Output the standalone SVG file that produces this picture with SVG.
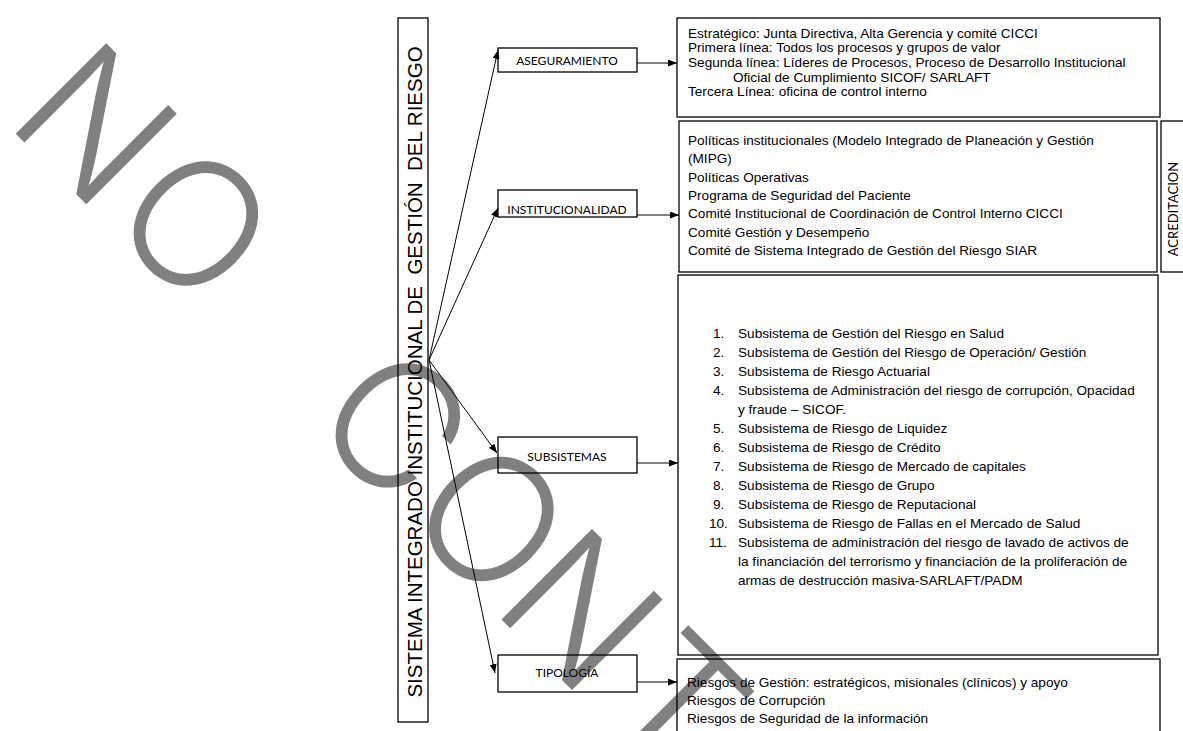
<svg xmlns="http://www.w3.org/2000/svg" width="1183" height="731" viewBox="0 0 1183 731">
<style>
.wm{font-family:Inter,"Liberation Sans",sans-serif;font-weight:350;font-size:176px;fill:#808080;text-anchor:middle}
.box{fill:none;stroke:#000;stroke-width:1.3}
.lbl{font-family:Lato,"Open Sans",sans-serif;font-size:12px;fill:#000;text-anchor:middle}
.t{font-family:"Liberation Sans",Arial,sans-serif;font-size:13.6px;fill:#000}
.vt{font-family:"Liberation Sans",Arial,sans-serif;font-size:20.5px;fill:#000;text-anchor:middle}
.con{stroke:#000;stroke-width:1;fill:none;marker-end:url(#ah)}
</style>
<defs>
<marker id="ah" markerUnits="userSpaceOnUse" markerWidth="9" markerHeight="7" refX="9" refY="3.5" orient="auto">
<path d="M0,0 L9,3.5 L0,7 z" fill="#000"/>
</marker>
</defs>
<rect width="1183" height="731" fill="#fff"/>
<g id="watermark">
<text class="wm" transform="translate(10,128) rotate(45)"><tspan x="58" y="0">N</tspan><tspan x="199" y="0">O</tspan><tspan x="482" y="0">C</tspan><tspan x="617" y="0">O</tspan><tspan x="745" y="0">N</tspan><tspan x="878" y="0">T</tspan></text>
</g>
<g id="sistema">
<rect x="398" y="18" width="30" height="704" class="box" stroke-width="1"/>
<text class="vt" transform="translate(422,372) rotate(-90)" xml:space="preserve">SISTEMA INTEGRADO INSTITUCIONAL DE  GESTIÓN  DEL RIESGO</text>
</g>
<g id="aseguramiento">
<rect x="498" y="48" width="139" height="24" class="box" stroke-width="1"/>
<text class="lbl" x="567" y="65">ASEGURAMIENTO</text>
</g>
<g id="institucionalidad">
<rect x="498" y="190" width="139" height="27" class="box" stroke-width="1"/>
<text class="lbl" x="567" y="214">INSTITUCIONALIDAD</text>
</g>
<g id="subsistemas">
<rect x="498" y="437" width="139" height="36" class="box" stroke-width="1"/>
<text class="lbl" x="567" y="461">SUBSISTEMAS</text>
</g>
<g id="tipologia">
<rect x="498" y="655" width="139" height="37" class="box" stroke-width="1"/>
<text class="lbl" x="567" y="677">TIPOLOGÍA</text>
</g>
<g id="aseg-detalle">
<rect x="677" y="18" width="483" height="99" class="box"/>
<text class="t" x="688" y="37.5">Estratégico: Junta Directiva, Alta Gerencia y comité CICCI</text>
<text class="t" x="688" y="52.2">Primera línea: Todos los procesos y grupos de valor</text>
<text class="t" x="688" y="66.9">Segunda línea: Líderes de Procesos, Proceso de Desarrollo Institucional</text>
<text class="t" x="733" y="81.6">Oficial de Cumplimiento SICOF/ SARLAFT</text>
<text class="t" x="688" y="96.3">Tercera Línea: oficina de control interno</text>
</g>
<g id="inst-detalle">
<rect x="679" y="121" width="478" height="151" class="box"/>
<text class="t" x="688" y="144.5">Políticas institucionales (Modelo Integrado de Planeación y Gestión</text>
<text class="t" x="688" y="163">(MIPG)</text>
<text class="t" x="688" y="181.5">Políticas Operativas</text>
<text class="t" x="688" y="199.5">Programa de Seguridad del Paciente</text>
<text class="t" x="688" y="218">Comité Institucional de Coordinación de Control Interno CICCI</text>
<text class="t" x="688" y="236.5">Comité Gestión y Desempeño</text>
<text class="t" x="688" y="255">Comité de Sistema Integrado de Gestión del Riesgo SIAR</text>
</g>
<g id="acreditacion">
<rect x="1161" y="121" width="24" height="151" class="box" stroke-width="1"/>
<text class="lbl" transform="translate(1178,209) rotate(-90)" style="font-size:13px">ACREDITACION</text>
</g>
<g id="subs-detalle">
<rect x="678" y="275" width="480" height="380" class="box"/>
<g class="t">
<text x="713" y="337.5">1.</text><text x="738" y="337.5">Subsistema de Gestión del Riesgo en Salud</text>
<text x="713" y="356.5">2.</text><text x="738" y="356.5">Subsistema de Gestión del Riesgo de Operación/ Gestión</text>
<text x="713" y="375.5">3.</text><text x="738" y="375.5">Subsistema de Riesgo Actuarial</text>
<text x="713" y="394.5">4.</text><text x="738" y="394.5">Subsistema de Administración del riesgo de corrupción, Opacidad</text>
<text x="738" y="413.5">y fraude – SICOF.</text>
<text x="713" y="432.5">5.</text><text x="738" y="432.5">Subsistema de Riesgo de Liquidez</text>
<text x="713" y="451.5">6.</text><text x="738" y="451.5">Subsistema de Riesgo de Crédito</text>
<text x="713" y="470.5">7.</text><text x="738" y="470.5">Subsistema de Riesgo de Mercado de capitales</text>
<text x="713" y="489.5">8.</text><text x="738" y="489.5">Subsistema de Riesgo de Grupo</text>
<text x="713" y="508.5">9.</text><text x="738" y="508.5">Subsistema de Riesgo de Reputacional</text>
<text x="709" y="527.5">10.</text><text x="738" y="527.5">Subsistema de Riesgo de Fallas en el Mercado de Salud</text>
<text x="709" y="546.5">11.</text><text x="738" y="546.5">Subsistema de administración del riesgo de lavado de activos de</text>
<text x="738" y="565.5">la financiación del terrorismo y financiación de la proliferación de</text>
<text x="738" y="584.5">armas de destrucción masiva-SARLAFT/PADM</text>
</g>
</g>
<g id="tipo-detalle">
<rect x="677" y="659" width="483" height="90" class="box"/>
<text class="t" x="687" y="686.5">Riesgos de Gestión: estratégicos, misionales (clínicos) y apoyo</text>
<text class="t" x="687" y="704.5">Riesgos de Corrupción</text>
<text class="t" x="687" y="722.5">Riesgos de Seguridad de la información</text>
</g>
<g id="connectors">
<line class="con" x1="429" y1="360" x2="498" y2="50"/>
<line class="con" x1="429" y1="360" x2="498" y2="208"/>
<line class="con" x1="429" y1="360" x2="497" y2="453"/>
<line class="con" x1="429" y1="360" x2="495" y2="673"/>
<line class="con" x1="637" y1="63" x2="677" y2="63"/>
<line class="con" x1="637" y1="215" x2="679" y2="215"/>
<line class="con" x1="637" y1="463" x2="678" y2="463"/>
<line class="con" x1="637" y1="682" x2="677" y2="682"/>
</g>
</svg>
